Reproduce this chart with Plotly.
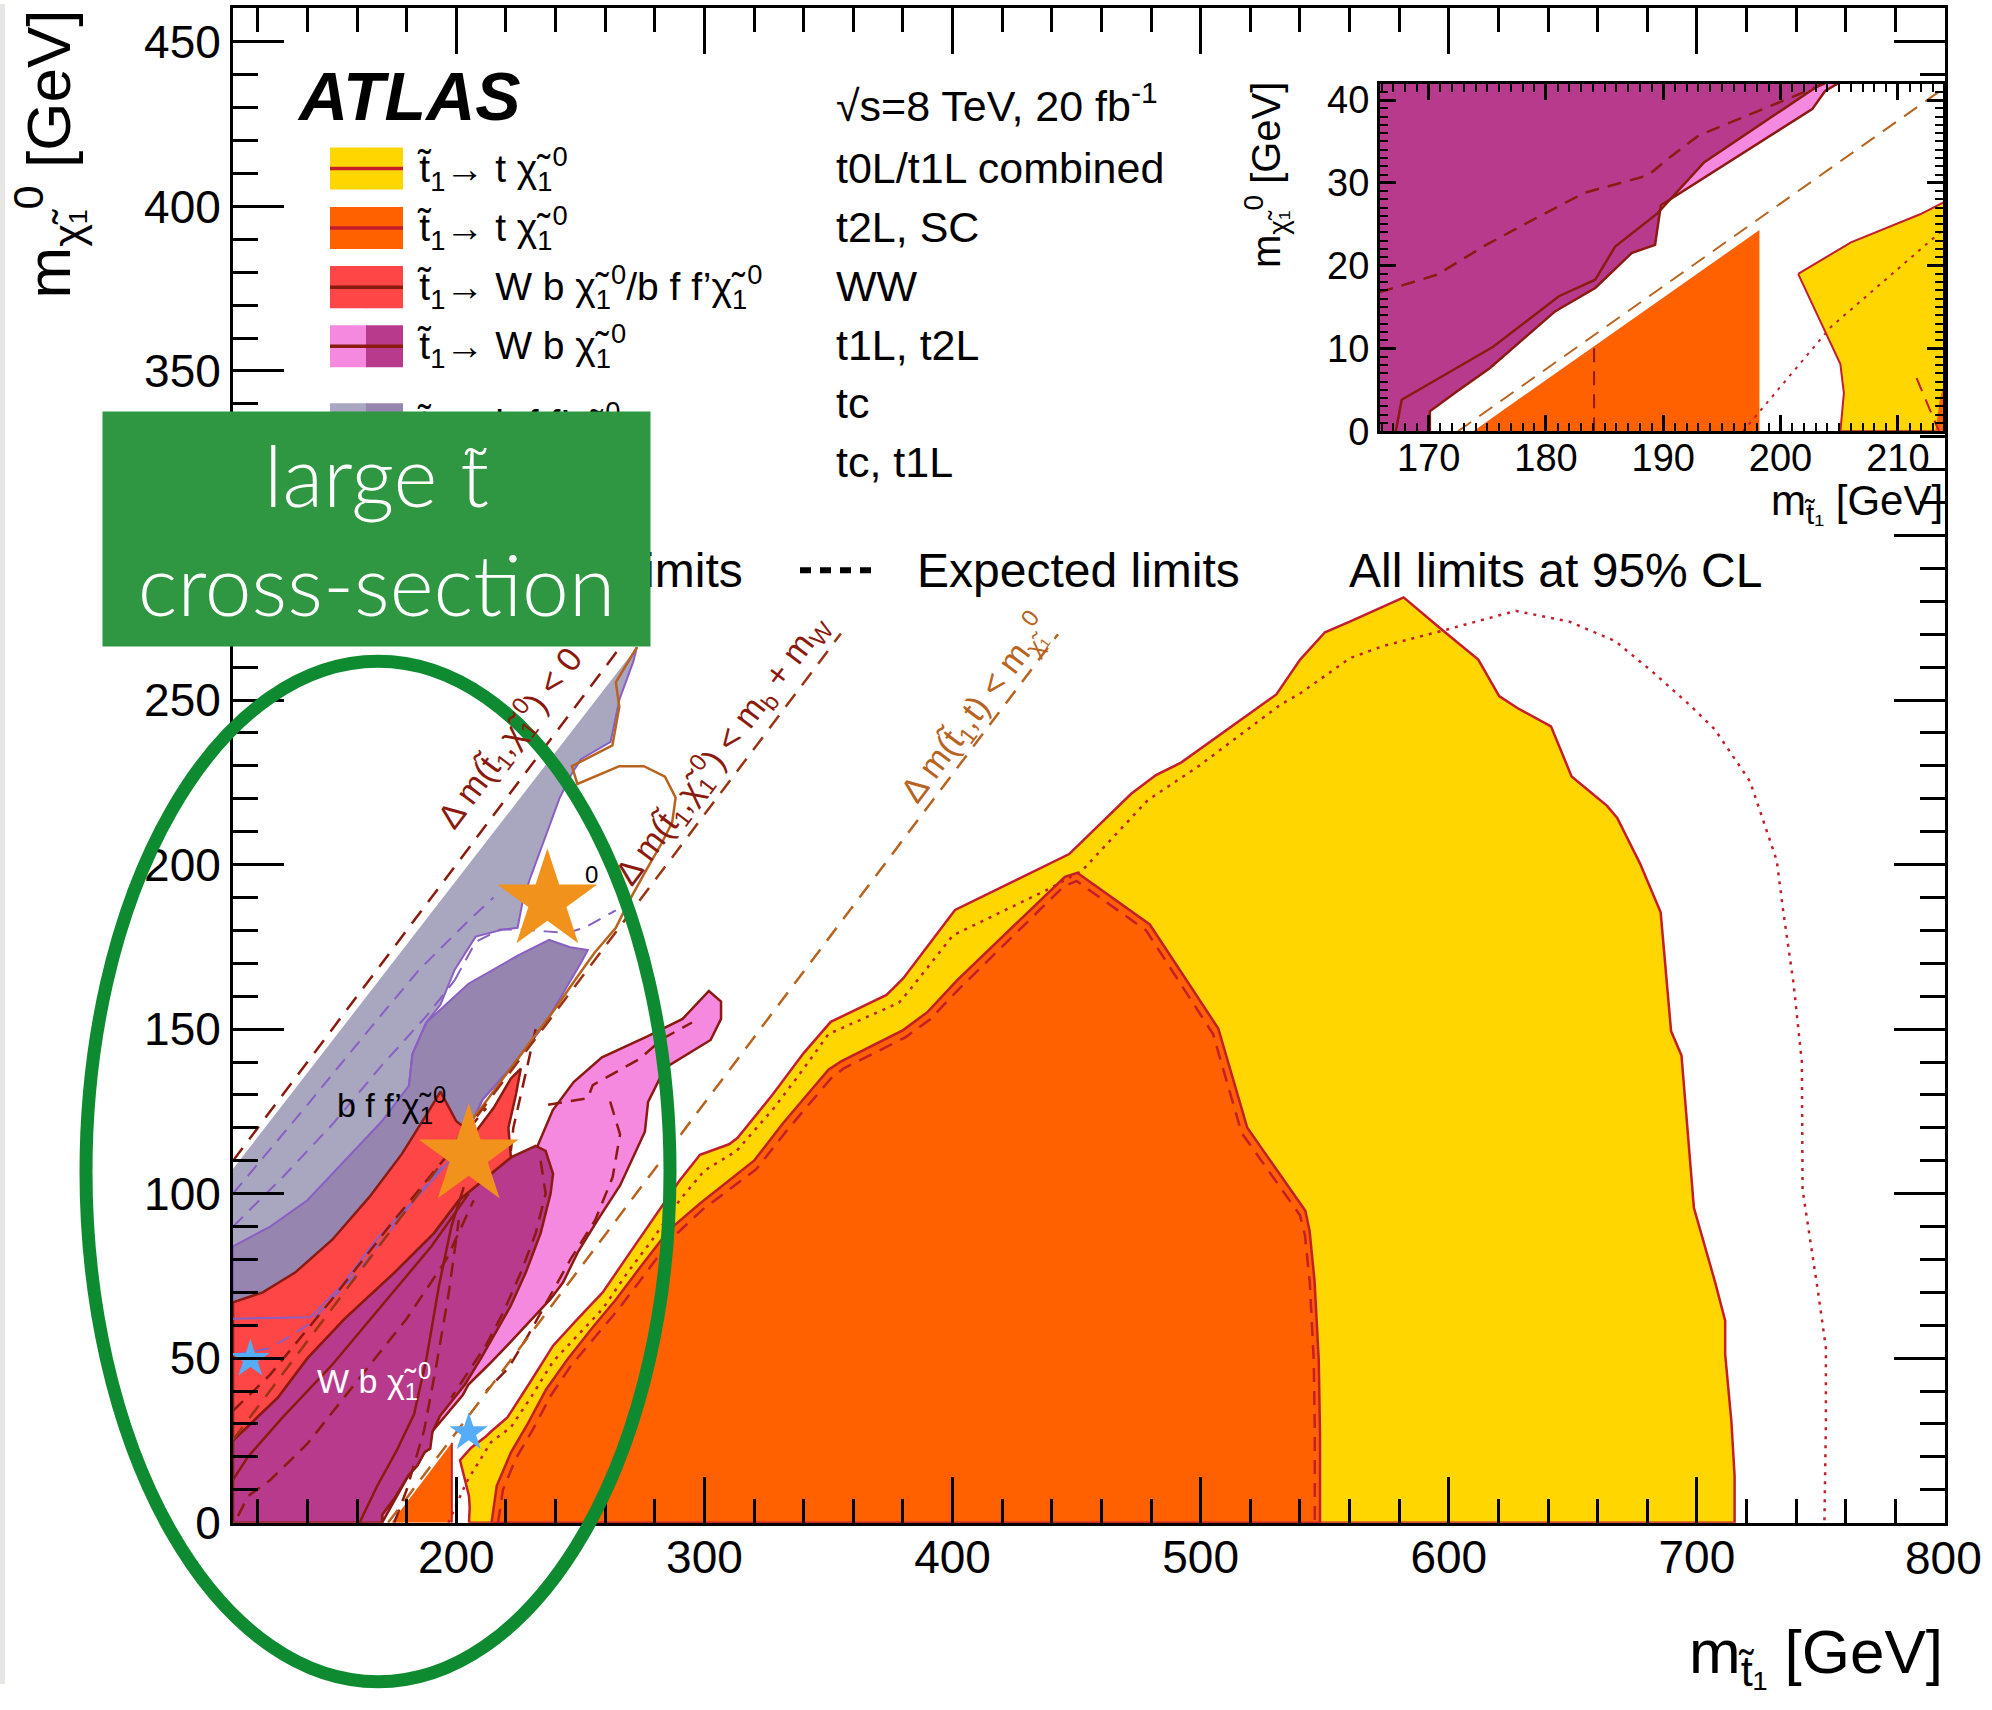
import plotly.graph_objects as go

W, H = 1992, 1710
F = "Liberation Sans, Arial, Helvetica, sans-serif"
# vertical photo correction (the page is photographed slightly compressed vertically)
VS, VOFF, KF = 0.982, 4.0, 1.0

# ---------------- main plot data (GeV) ----------------
# t0L/t1L combined (yellow): observed / expected
yel_obs_x = [205.1, 205.4, 205.1, 201.5, 206, 211.9, 214, 220.6, 230, 239, 249, 259, 269, 279, 290, 298.2, 309.9, 313.3,
             327.5, 340.0, 350.9, 373.4, 380.1, 401.0, 441.9, 447.0, 472.0, 482.0, 492.1, 530.5, 540.1, 550.1, 560.1,
             581.8, 596.9, 611.9, 620.3, 627.8, 641.2, 649.5, 663.7, 667.9, 677.1, 685.4, 689.6, 693.8, 698.8, 707.2,
             711.4, 711.4, 713.9, 715.2, 715.2]
yel_obs_y = [0, 4.6, 8.1, 19.0, 22.8, 26.2, 27.7, 32, 43, 53.8, 62, 70, 81, 92, 104, 111.8, 115.0, 116.9,
             130.1, 142.7, 152.2, 160.4, 165.4, 186.2, 201.3, 203.2, 221.5, 227.2, 231.0, 251.7, 262.3, 270.6, 273.8,
             281.2, 271.6, 262.3, 251.2, 247.5, 242.0, 226.8, 217.9, 214.2, 200.3, 185.5, 149.4, 142.0, 95.7, 73.5,
             61.4, 51.2, 30.9, 14.2, 0]
yel_exp_x = [196.8, 204.3, 214, 222, 230, 239, 249, 259, 269, 279, 290, 300, 313, 328, 340, 350, 378.4, 381.8, 400.2,
             438.6, 452.0, 478.7, 498.8, 532.2, 540.1, 560.1, 573.5, 595.2, 627.0, 648.7, 667.1, 682.1, 697.1, 707.2,
             721.4, 732.2, 734.7, 738.9, 742.3, 742.6, 748.9, 752.0, 752.0, 751.4]
yel_exp_y = [0, 12.6, 24.5, 29, 38, 49, 57, 65, 76, 86, 98, 107, 113, 126, 138, 148.5, 158.0, 161.0, 178.5,
             192.5, 198.0, 219.6, 229.7, 248.6, 252, 262.7, 266.4, 270.6, 277.1, 273.8, 267.9, 258.6, 248.5, 241.1,
             225.3, 201.2, 186.4, 164.2, 140.1, 101.2, 69.8, 53.1, 30.9, 0]

# t2L, SC (orange): observed / expected
org_obs_x = [214.2, 216.3, 222, 229.1, 236.2, 244.7, 254.6, 264.5, 274.5, 285.8, 298.2, 320.0, 331.6, 350.0, 355.1,
             380.1, 390.1, 401.8, 445.3, 450.3, 479.5, 507.1, 518.8, 542.2, 543.9, 545.9, 547.6, 548.1, 548.1]
org_obs_y = [0, 11.2, 21.3, 30.5, 40.5, 49.5, 59, 68, 78, 89, 97, 110.0, 121.3, 137.7, 140.2,
             149.7, 155.3, 164.8, 196.3, 197.5, 181.8, 150.2, 120.0, 94.8, 88.7, 73.5, 49.4, 27.2, 0]
org_exp_x = [216.8, 218.8, 224, 231, 238, 246, 256, 266, 276, 287, 299, 321, 333, 351, 356, 381, 391, 403, 445, 450,
             478, 505, 516.5, 540, 542, 544, 545.6, 546, 546]
org_exp_y = [0, 10, 19.5, 28.5, 38.5, 47.5, 56.5, 65.5, 75.5, 86.5, 95, 107.5, 119, 135, 138, 147.5, 153, 162.5,
             193.5, 195, 180, 148.5, 118.5, 93.5, 87.5, 73, 49, 27, 0]
org_tri_x = [173.8, 198.2, 198.2]
org_tri_y = [0, 24.3, 0]
org_tri_edge_x = [198.2, 198.2]
org_tri_edge_y = [0, 24.3]

# tc (light purple) and tc, t1L (dark purple)
tc_x = [110, 272.8, 271.4, 265.7, 262.2, 250.2, 246.6, 241.7, 237.4, 233.2, 229.7, 226.9, 224.7, 219.1, 207.8,
        199.3, 193.6, 187.9, 182.3, 180.9, 170, 155, 140, 125, 110]
tc_y = [107.5, 266.1, 261.8, 250.1, 237.3, 232.0, 227.7, 220.3, 211.7, 203.2, 195.7, 189.3, 180.8, 180.3, 178.1,
        168.0, 157.4, 152.0, 142.4, 132.8, 122, 110, 98, 90, 84]
tcd_x = [187.9, 204.9, 224.7, 237.4, 245.9, 253.0, 250.2, 236.0, 221.9, 210.6, 200.7, 183.7, 168.1, 153.9, 141.1,
         110, 110, 125, 140, 155, 170, 180.9, 182.3]
tcd_y = [152.0, 163.8, 172.3, 177.1, 174.9, 174.0, 170.1, 151.9, 138.2, 128.6, 112.8, 98.5, 86.3, 72.1, 62.4,
         62, 84, 90, 98, 110, 122, 132.8, 142.4]
tc_d1_x = [199.3, 207.8, 217.7, 226.1, 236, 244.5, 251.6, 264.3]
tc_d1_y = [164.8, 176.5, 180.3, 180.3, 179.7, 179.2, 180.8, 186.1]
tc_d2_x = [110, 130, 150, 170, 188, 199.3]
tc_d2_y = [90, 105, 121, 139, 154, 164.8]
tc_d3_x = [110, 140, 165, 185, 205, 215]
tc_d3_y = [100, 127, 150, 168, 183, 190]
tc_d4_x = [110, 125, 140, 160, 185, 205]
tc_d4_y = [51, 53, 60, 76, 100, 118]

# WW (red) and t1L/t2L 3-body (magenta / pink)
mag_top_x = [110, 117, 128, 140, 155, 175, 191, 201, 214, 222]
mag_top_y = [25, 30, 38, 50, 62, 76, 88, 98, 106, 111]
ww_x = mag_top_x + [221, 224, 226, 222, 215, 207, 200, 193.6, 188, 178, 165, 150, 135, 122, 110]
ww_y = mag_top_y + [120, 130, 138, 135, 126, 118, 122, 131, 124, 112, 99, 86, 76, 70, 67]
ww_d_x = [110, 125, 150, 175, 200, 212]
ww_d_y = [34, 45, 68, 92, 115, 126]

wbn_x = [110] + mag_top_x + [232, 236, 239, 238, 234, 228, 222, 216, 210, 203.5, 193.5, 190.4, 189.5, 187.3,
                              184.2, 180.8, 175.2, 172.4, 170.1, 170.1]
wbn_y = [0] + mag_top_y + [114.5, 113, 106, 100, 88, 76, 66, 58, 50, 42, 32.5, 27.7, 22.5, 21.5,
                            17.3, 14.5, 7.6, 4.8, 2.4, 0]
pink_x = [170.1, 170.1, 172.4, 175.2, 180.8, 184.2, 187.3, 189.3, 189.8, 202.7, 204.9, 213, 222, 231.9, 238, 243,
          249, 257, 266, 276, 277.3, 284.1, 291.2, 302.5, 306.7, 306.7, 301.8, 291.2, 277.0, 258.7, 247.3, 238.9,
          231.8, 225, 210, 190]
pink_y = [0, 2.4, 4.8, 7.6, 14.5, 17.3, 21.5, 22.5, 27.3, 38.9, 42, 48, 55, 63, 68, 73, 82.2, 92, 102.5, 118.8, 127.9,
          138.2, 141.4, 146.7, 153.1, 158.4, 161.6, 153.1, 147.8, 141.4, 133.9, 125.4, 112.8, 100, 60, 27]
pink_d1_x = [237, 253, 255, 274, 283, 295]
pink_d1_y = [127, 129, 133, 141, 147, 152]
pink_d2_x = [262, 266, 263, 256, 246, 237, 229, 221, 212]
pink_d2_y = [128, 118, 105, 92, 80, 68, 57, 47, 40]
pink_d3_x = [232, 229, 226, 223, 222]
pink_d3_y = [150, 140, 130, 120, 113]
mag_l1_x = [161, 168, 176, 183, 188, 193, 198, 203]
mag_l1_y = [0, 11, 22, 33, 50, 72, 90, 102]
mag_l2_x = [110, 116, 130, 150, 170, 190, 205]
mag_l2_y = [13, 20, 32, 48, 66, 84, 100]
mag_d1_x = [112, 116, 125, 140, 160, 180, 196, 207]
mag_d1_y = [2, 8, 13, 24, 43, 62, 80, 98]
mag_d2_x = [175, 180, 187, 192, 197, 201]
mag_d2_y = [0, 10, 28, 48, 70, 92]
mag_d3_x = [234, 236, 232, 226, 219, 212, 205, 198]
mag_d3_y = [110, 100, 88, 76, 64, 54, 46, 38]

# brown contour
brn_x = [272.8, 264.3, 265.7, 262.9, 246.6, 248.8, 265.7, 275.6, 284.1, 288.4, 287.0, 282.7, 277.0, 269.9, 264.3,
         255.8, 248.8, 238.9, 230.4, 220, 210, 200]
brn_y = [266.1, 255.4, 248.0, 236.2, 229.9, 224.5, 229.9, 229.9, 226.7, 220.3, 212.8, 206.4, 198.9, 189.3, 180.8,
         173.3, 165.9, 155.2, 146.7, 136, 126, 116.5]

# kinematic boundary lines
kin0_x, kin0_y = [110, 270], [110, 270]          # dm < 0
kinW_x, kinW_y = [110, 355], [25.2, 270.2]       # dm < m_b + m_W
kinT_x, kinT_y = [172.5, 442.5], [0, 270]        # dm < m_t

# highlight stars
star_big_x, star_big_y = [236.7, 205], [189, 111.5]
star_small_x, star_small_y = [117, 205], [49.7, 27.4]

# x tick labels
xtick_vals = [200, 300, 400, 500, 600, 700, 800]
xtick_text = ["200", "300", "400", "500", "600", "700", ""]
last_xtick = "800"

# ---------------- inset data ----------------
ins_A_x = [167.2, 167.7, 175.5, 181.1, 184.2, 185.9, 189.5, 190.4, 193.5, 203.5]
ins_A_y = [0, 3.8, 10.2, 16.3, 18.3, 22.3, 26.3, 27.7, 32.5, 42]
ins_B_x = [170.1, 170.1, 172.4, 175.2, 180.8, 184.2, 187.3, 189.3, 189.8, 202.7, 203.8, 204.9]
ins_B_y = [0, 2.4, 4.8, 7.6, 14.5, 17.3, 21.5, 22.5, 27.3, 38.9, 41.1, 42]
ins_exp_x = [165.8, 166.8, 170.7, 174.9, 179.1, 183.3, 188.7, 190.4, 193, 203.8]
ins_exp_y = [16.8, 17.2, 18.9, 22.5, 25.7, 28.8, 30.9, 32.9, 35.7, 42]
ins_yel_x = [201.5, 206, 211.9, 214, 214, 205.1, 205.4, 205.1]
ins_yel_y = [19.0, 22.8, 26.2, 27.7, 0, 0, 4.6, 8.1]
ins_yexp_x, ins_yexp_y = [196.8, 204.3, 214], [0, 12.6, 24.5]
ins_tri_x, ins_tri_y = [173.8, 198.2, 198.2], [0, 24.3, 0]
ins_vd_x, ins_vd_y = [184.1, 184.1], [0, 10.3]
ins_mt_x, ins_mt_y = [172.5, 214], [0, 41.5]
ins_org_x, ins_org_y = [213.2, 213.6, 214, 214], [0, 4, 6, 0]
ins_oexp_x, ins_oexp_y = [211.6, 213.5], [6.4, 0]
XR2, YR2 = [165.85, 213.85], [0, 41.93]

# ---------------- colours ----------------
C_YEL, C_ORG, C_RED = "#FFD600", "#FF6000", "#FF4646"
C_PINK, C_MAG = "#F589E0", "#B83A8C"
C_TC, C_TCD = "#A9A6C0", "#9685AF"
C_OBS = "#C41E2A"     # yellow/orange contours
C_DR = "#8B1A10"      # dark red contours
C_PUR = "#8A5FC4"
C_BRN = "#B8631E"


def s(v):
    return v * KF


fig = go.Figure()


def poly(x, y, fill, line=None, lw=2.5, xa="x", ya="y"):
    fig.add_trace(go.Scatter(x=list(x) + [x[0]], y=list(y) + [y[0]], mode="lines", fill="toself",
                             fillcolor=fill, line=dict(color=line if line else fill, width=lw if line else 0),
                             hoverinfo="skip", showlegend=False, xaxis=xa, yaxis=ya))


def curve(x, y, color, lw=2.5, dash="solid", xa="x", ya="y"):
    fig.add_trace(go.Scatter(x=x, y=y, mode="lines", line=dict(color=color, width=lw, dash=dash),
                             hoverinfo="skip", showlegend=False, xaxis=xa, yaxis=ya))


DASH = "14px,9px"
DOT = "3px,6px"

# main plot regions
poly(yel_obs_x, yel_obs_y, C_YEL, C_OBS)
poly(org_obs_x, org_obs_y, C_ORG, C_OBS)
poly(org_tri_x, org_tri_y, C_ORG)
curve(org_tri_edge_x, org_tri_edge_y, C_OBS, 2)
poly(tc_x, tc_y, C_TC)
poly(tcd_x, tcd_y, C_TCD, C_PUR, 2)
poly(pink_x, pink_y, C_PINK, C_DR)
poly(wbn_x, wbn_y, C_MAG, C_DR)
poly(ww_x, ww_y, C_RED, C_DR)
# contour lines
curve(tc_x[1:20], tc_y[1:20], C_PUR, 2)
curve(tcd_x[7:16], tcd_y[7:16], C_PUR, 2)
for xx, yy in [(tc_d1_x, tc_d1_y), (tc_d2_x, tc_d2_y), (tc_d3_x, tc_d3_y), (tc_d4_x, tc_d4_y)]:
    curve(xx, yy, C_PUR, 2, DASH)
for xx, yy in [(pink_d1_x, pink_d1_y), (pink_d2_x, pink_d2_y), (pink_d3_x, pink_d3_y), (mag_d1_x, mag_d1_y),
               (mag_d2_x, mag_d2_y), (mag_d3_x, mag_d3_y), (ww_d_x, ww_d_y)]:
    curve(xx, yy, C_DR, 2.5, DASH)
curve(mag_l1_x, mag_l1_y, C_DR, 2.5)
curve(mag_l2_x, mag_l2_y, C_DR, 2.5)
curve(yel_exp_x, yel_exp_y, C_OBS, 2.5, DOT)
curve(org_exp_x, org_exp_y, C_OBS, 2.5, DASH)
curve(brn_x, brn_y, C_BRN, 2.5)
curve(kin0_x, kin0_y, "#8B1A0E", 2.5, "16px,11px")
curve(kinW_x, kinW_y, "#9A3412", 2.5, "16px,11px")
curve(kinT_x, kinT_y, C_BRN, 2.5, "16px,11px")

fig.add_trace(go.Scatter(x=star_big_x, y=star_big_y, mode="markers", cliponaxis=False, hoverinfo="skip",
                         marker=dict(symbol="star", size=s(75), color="#F0921C", line=dict(width=0)),
                         showlegend=False))
fig.add_trace(go.Scatter(x=star_small_x, y=star_small_y, mode="markers", cliponaxis=False, hoverinfo="skip",
                         marker=dict(symbol="star", size=s(29), color="#55ADF7", line=dict(width=0)),
                         showlegend=False))

# inset
poly([XR2[0], XR2[1], XR2[1], XR2[0]], [YR2[0], YR2[0], YR2[1], YR2[1]], "white", None, 0, "x2", "y2")
poly(ins_yel_x, ins_yel_y, C_YEL, C_OBS, 2, "x2", "y2")
poly(ins_org_x, ins_org_y, C_ORG, None, 0, "x2", "y2")
curve(ins_oexp_x, ins_oexp_y, C_OBS, 2, DASH, "x2", "y2")
poly(ins_tri_x, ins_tri_y, C_ORG, None, 0, "x2", "y2")
poly([XR2[0]] + ins_B_x + [XR2[0]], [0] + ins_B_y + [YR2[1]], C_PINK, None, 0, "x2", "y2")
poly([XR2[0]] + ins_A_x[::-1][:3] + [190.4] + ins_B_x[::-1][3:] + [XR2[0]],
     [YR2[1]] + ins_A_y[::-1][:3] + [27.7] + ins_B_y[::-1][3:] + [0], C_MAG, None, 0, "x2", "y2")
curve(ins_A_x, ins_A_y, C_DR, 2.5, "solid", "x2", "y2")
curve(ins_B_x, ins_B_y, C_DR, 2.5, "solid", "x2", "y2")
curve(ins_exp_x, ins_exp_y, C_DR, 2.5, DASH, "x2", "y2")
curve(ins_yexp_x, ins_yexp_y, C_OBS, 2, DOT, "x2", "y2")
curve(ins_vd_x, ins_vd_y, C_DR, 2, DASH, "x2", "y2")
curve(ins_mt_x, ins_mt_y, C_BRN, 2, "16px,10px", "x2", "y2")

# ---------------- axes ----------------
L, R, T, B = 233, 1945, 8, 1522
IL, IR, IT, IB = 1380, 1943, 84, 431


def px(x):
    return min(max(x / W, 0.0), 1.0)


def py(y):
    return min(max(1 - (y - VOFF) / VS / H, 0.0), 1.0)


ax_common = dict(ticks="inside", mirror="allticks", showline=True, linecolor="black", showgrid=False,
                 zeroline=False, tickcolor="black", fixedrange=True)
fig.update_layout(
    width=W, height=H, autosize=False, margin=dict(l=0, r=0, t=0, b=0, pad=0),
    paper_bgcolor="white", plot_bgcolor="white", showlegend=False,
    xaxis=dict(domain=[px(L), px(R)], range=[110, 800], tickvals=xtick_vals, ticktext=xtick_text,
               ticklen=s(46), tickwidth=3, linewidth=3,
               tickfont=dict(family=F, size=s(46), color="black"), anchor="y", ticklabelstandoff=-8,
               minor=dict(dtick=20, tick0=0, ticks="inside", ticklen=s(24), tickwidth=3, tickcolor="black",
                          showgrid=False), **ax_common),
    yaxis=dict(domain=[py(B), py(T)], range=[0, 460.3], dtick=50, tick0=0, ticklen=s(51), tickwidth=3, linewidth=3,
               tickfont=dict(family=F, size=s(46), color="black"), anchor="x",
               minor=dict(dtick=10, tick0=0, ticks="inside", ticklen=s(25), tickwidth=3, tickcolor="black",
                          showgrid=False), **ax_common),
    xaxis2=dict(domain=[px(IL), px(IR)], range=XR2, dtick=10, tick0=0, ticklen=s(16), tickwidth=2.5, linewidth=3,
                tickfont=dict(family=F, size=s(38), color="black"), anchor="y2", ticklabelstandoff=-9,
                minor=dict(dtick=1, tick0=0, ticks="inside", ticklen=s(8), tickwidth=2, tickcolor="black",
                           showgrid=False), **ax_common),
    yaxis2=dict(domain=[py(IB), py(IT)], range=YR2, dtick=10, tick0=0, ticklen=s(16), tickwidth=2.5, linewidth=3,
                tickfont=dict(family=F, size=s(38), color="black"), anchor="x2",
                minor=dict(dtick=1, tick0=0, ticks="inside", ticklen=s(8), tickwidth=2, tickcolor="black",
                           showgrid=False), **ax_common),
)

# ---------------- shapes & annotations ----------------
shapes = []
anns = []


def text(t, x, y, size, color="black", xanchor="left", yanchor="middle", angle=0, family=F, ref="px"):
    if ref == "px":
        anns.append(dict(text=t, x=px(x), y=py(y), xref="paper", yref="paper", xanchor=xanchor, yanchor=yanchor,
                         textangle=angle, showarrow=False, font=dict(family=family, size=s(size), color=color)))
    else:
        anns.append(dict(text=t, x=x, y=y, xref="x", yref="y", xanchor=xanchor, yanchor=yanchor,
                         textangle=angle, showarrow=False, font=dict(family=family, size=s(size), color=color)))


def rect(x0, y0, x1, y1, color):
    shapes.append(dict(type="rect", xref="paper", yref="paper", x0=px(x0), x1=px(x1), y0=py(y1), y1=py(y0),
                       fillcolor=color, line=dict(width=0), layer="above"))


def hline(x0, x1, y, color, width, dash="solid"):
    shapes.append(dict(type="line", xref="paper", yref="paper", x0=px(x0), x1=px(x1), y0=py(y), y1=py(y),
                       line=dict(color=color, width=width, dash=dash), layer="above"))


# slide edge
shapes.append(dict(type="rect", xref="paper", yref="paper", x0=0, x1=px(5), y0=0, y1=1,
                   fillcolor="#E6E6E4", line=dict(width=0), layer="above"))

# last x tick label
anns.append(dict(text=last_xtick, x=px(1943), y=py(1557), xref="paper", yref="paper", xanchor="center",
                 yanchor="middle", showarrow=False, font=dict(family=F, size=s(46), color="black")))

chi = "χ̃<sub>1</sub><sup>0</sup>"
leg_y = [168.5, 228, 287, 346, 424]
leg_txt = ["t̃<sub>1</sub>→ t " + chi, "t̃<sub>1</sub>→ t " + chi, "t̃<sub>1</sub>→ W b " + chi + "/b f f’" + chi,
           "t̃<sub>1</sub>→ W b " + chi, "t̃<sub>1</sub>→ b f f’" + chi]
leg_col = [(C_YEL, C_YEL, C_OBS), (C_ORG, C_ORG, C_OBS), (C_RED, C_RED, C_DR), (C_PINK, C_MAG, C_DR),
           (C_TC, C_TCD, None)]
for yc, t, (c1, c2, lc) in zip(leg_y, leg_txt, leg_col):
    rect(330, yc - 21, 367, yc + 21, c1)
    rect(366, yc - 21, 403, yc + 21, c2)
    if lc:
        hline(330, 403, yc, lc, 3.5)
    text(t, 415, yc, 39)

right_txt = ["t0L/t1L combined", "t2L, SC", "WW", "t1L, t2L", "tc", "tc, t1L"]
right_y = [168, 227, 286, 345, 403, 462]
for t, yc in zip(right_txt, right_y):
    text(t, 834, yc, 43)
text("√s=8 TeV, 20 fb<sup>-1</sup>", 834, 103, 43)
text("<b><i>ATLAS</i></b>", 295, 96, 68)

# limit-style legend row
hline(335, 412, 570, "black", 4)
text("Observed limits", 745, 570, 48, xanchor="right")
hline(800, 877, 570, "black", 6, "11px,9px")
text("Expected limits", 915, 570, 48)
text("All limits at 95% CL", 1347, 570, 48)

# kinematic line labels
text("Δ m(t̃<sub>1</sub>,χ̃<sub>1</sub><sup>0</sup>) &lt; 0", 509, 738, 34, "#8B1A0E", "center", "middle", -53)
text("Δ m(t̃<sub>1</sub>,χ̃<sub>1</sub><sup>0</sup>) &lt; m<sub>b</sub> + m<sub>W</sub>", 721, 749, 34, "#8B1A0E",
     "center", "middle", -53)
text("Δ m(t̃<sub>1</sub>,t) &lt; m<sub>χ̃₁</sub><sup>0</sup>", 975, 708, 34, C_BRN, "center", "middle", -53)

# region labels
text("b f f’" + chi, 151, 127, 34, "black", ref="data")
text("W b " + chi, 143, 43, 34, "white", ref="data")
text("0", 254.4, 197, 24, "black", "center", ref="data")

# axis titles
text("m<sub>χ̃₁</sub><sup>0</sup> [GeV]", 48, 8, 62, xanchor="center", yanchor="top", angle=-90)
text("m<sub>t̃₁</sub> [GeV]", 1945, 1655, 62, xanchor="right")
text("m<sub>χ̃₁</sub><sup>0</sup> [GeV]", 1266, 80, 40, xanchor="center", yanchor="top", angle=-90)
text("m<sub>t̃₁</sub> [GeV]", 1945, 503, 42, xanchor="right")

# green ellipse highlight
shapes.append(dict(type="circle", xref="paper", yref="paper", x0=px(86), x1=px(670), y0=py(1681), y1=py(661),
                   line=dict(color="#0E8A30", width=s(13)), fillcolor="rgba(0,0,0,0)", layer="above"))

# green box (drawn last so it covers what lies beneath)
anns.append(dict(text="large t̃<br>cross-section", x=px(376.5), y=py(529), xref="paper", yref="paper",
                 xanchor="center", yanchor="middle", showarrow=False, bgcolor="#2F9642", borderpad=0,
                 width=547, height=230 / VS, align="center",
                 font=dict(family="Lato, Roboto, Open Sans, sans-serif", size=s(84), color="white", weight=300)))

fig.update_layout(shapes=shapes, annotations=anns)
fig.write_html("out.html", post_script=(
    "document.documentElement.style.margin='0';document.body.style.margin='0';"
    "document.body.style.padding='0';"))
